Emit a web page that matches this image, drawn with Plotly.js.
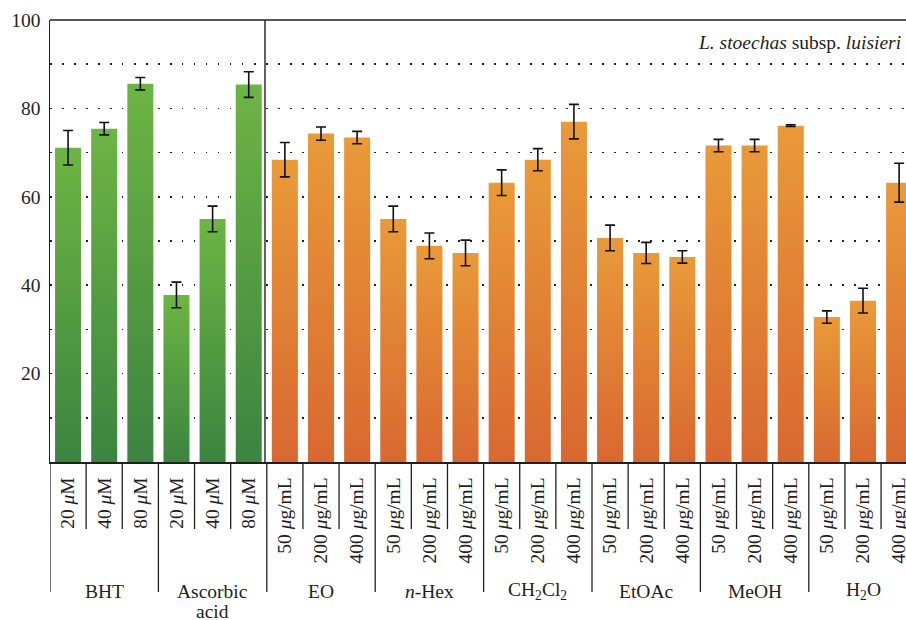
<!DOCTYPE html>
<html>
<head>
<meta charset="utf-8">
<script src="https://cdn.plot.ly/plotly-3.0.1.min.js"></script>
<style>
html,body{margin:0;padding:0;background:#fff;overflow:hidden;}
#chart{width:906px;height:620px;}
</style>
</head>
<body>
<div id="chart"></div>
<script>
// ---- data ----
const concLabels = [
  "20 <i>μ</i>M","40 <i>μ</i>M","80 <i>μ</i>M",
  "20 <i>μ</i>M","40 <i>μ</i>M","80 <i>μ</i>M",
  "50 <i>μ</i>g/mL","200 <i>μ</i>g/mL","400 <i>μ</i>g/mL",
  "50 <i>μ</i>g/mL","200 <i>μ</i>g/mL","400 <i>μ</i>g/mL",
  "50 <i>μ</i>g/mL","200 <i>μ</i>g/mL","400 <i>μ</i>g/mL",
  "50 <i>μ</i>g/mL","200 <i>μ</i>g/mL","400 <i>μ</i>g/mL",
  "50 <i>μ</i>g/mL","200 <i>μ</i>g/mL","400 <i>μ</i>g/mL",
  "50 <i>μ</i>g/mL","200 <i>μ</i>g/mL","400 <i>μ</i>g/mL"
];
const groupLabels = ["BHT","Ascorbic<br>acid","EO","<i>n</i>-Hex","CH<sub>2</sub>Cl<sub>2</sub>","EtOAc","MeOH","H<sub>2</sub>O"];
const groupSizes = [3,3,3,3,3,3,3,3];

const standardValues = [71.1, 75.4, 85.6, 37.8, 55.0, 85.4];
const standardErrors = [3.9, 1.4, 1.4, 2.9, 2.9, 2.9];

const extractValues = [68.4, 74.3, 73.4,  55.0, 48.9, 47.3,  63.2, 68.4, 77.0,
                       50.7, 47.3, 46.4,  71.6, 71.6, 76.1,  32.8, 36.5, 63.2];
const extractErrors = [3.9, 1.5, 1.4,  2.9, 2.9, 2.9,  2.9, 2.5, 3.9,
                       2.9, 2.4, 1.4,  1.4, 1.4, 0.2,  1.4, 2.8, 4.4];

const yTickVals = [20, 40, 60, 80, 100];
const plantLabel = "<i>L. stoechas</i> subsp. <i>luisieri</i>";

// ---- styling ----
const FONT = "Liberation Serif, Times New Roman, serif";
const TXT = "#231f20";
const FS = 19.5;

const xStd = standardValues.map((_, i) => i);
const xExt = extractValues.map((_, i) => i + standardValues.length);
const allX = concLabels.map((_, i) => i);

const errStyle = {type: 'data', visible: true, color: '#111', thickness: 1.6, width: 5};

const data = [
  {type: 'bar', x: xStd, y: standardValues, width: 0.72,
   marker: {color: '#55a043', line: {width: 0}},
   error_y: Object.assign({array: standardErrors}, errStyle), hoverinfo: 'skip'},
  {type: 'bar', x: xExt, y: extractValues, width: 0.72,
   marker: {color: '#e08035', line: {width: 0}},
   error_y: Object.assign({array: extractErrors}, errStyle), hoverinfo: 'skip'}
];

// plot area: top 20px, bottom 462px => height 442px
const plotH = 442;
const pxToPaper = (px) => -(px) / plotH; // px below axis -> paper y

const shapes = [];
// top border
shapes.push({type: 'line', xref: 'paper', yref: 'paper', x0: 0, x1: 1, y0: 1, y1: 1,
             line: {color: TXT, width: 1.6}});
// divider between standards and extracts inside plot
shapes.push({type: 'line', xref: 'x', yref: 'paper', x0: standardValues.length - 0.55, x1: standardValues.length - 0.55,
             y0: 0, y1: 1, line: {color: TXT, width: 1.4}});
// category dividers below axis
const groupStarts = [];
let acc = 0;
groupSizes.forEach(s => { groupStarts.push(acc); acc += s; });
for (let k = 0; k <= concLabels.length; k++) {
  const isGroup = groupStarts.includes(k) || k === concLabels.length;
  shapes.push({type: 'line', xref: 'x', yref: 'paper', x0: k - 0.5, x1: k - 0.5,
               y0: 0, y1: isGroup ? pxToPaper(130) : pxToPaper(67),
               line: {color: TXT, width: 1.3}});
}

const annotations = [];
groupLabels.forEach((g, gi) => {
  const center = groupStarts[gi] + (groupSizes[gi] - 1) / 2;
  g.split('<br>').forEach((line, li) => {
    annotations.push({xref: 'x', yref: 'paper', x: center, y: pxToPaper(129 + li * 20),
      text: line, showarrow: false, xanchor: 'center', yanchor: 'middle',
      font: {family: FONT, size: FS, color: TXT}});
  });
});
annotations.push({xref: 'paper', yref: 'paper', x: 1, y: (462 - 42) / plotH, xshift: -3,
  text: plantLabel, showarrow: false, xanchor: 'right', yanchor: 'middle',
  font: {family: FONT, size: FS, color: TXT}});

const gridDash = "1.5px,10.5px";
const layout = {
  width: 906, height: 620,
  margin: {l: 50, r: 0, t: 20, b: 158},
  paper_bgcolor: '#fff', plot_bgcolor: '#fff',
  barmode: 'overlay', showlegend: false,
  font: {family: FONT, size: FS, color: TXT},
  xaxis: {range: [-0.5, 23.19], tickvals: allX, ticktext: concLabels, tickangle: -90,
          ticks: '', showgrid: false, zeroline: false, showline: true,
          linecolor: TXT, linewidth: 1.5, ticklabelstandoff: 6, ticklabeloverflow: 'allow',
          tickfont: {family: FONT, size: FS, color: TXT}, fixedrange: true},
  yaxis: {range: [0, 100], tickvals: yTickVals, ticks: '', showline: true,
          linecolor: TXT, linewidth: 1.5, zeroline: false,
          showgrid: true, gridcolor: TXT, gridwidth: 1.5, griddash: gridDash,
          minor: {dtick: 10, tick0: 0, showgrid: true, gridcolor: TXT, gridwidth: 1.5, griddash: gridDash},
          ticklabelstandoff: 4,
          tickfont: {family: FONT, size: FS, color: TXT}, fixedrange: true},
  shapes: shapes,
  annotations: annotations
};

Plotly.newPlot('chart', data, layout, {staticPlot: true, displayModeBar: false}).then(gd => {
  const ns = 'http://www.w3.org/2000/svg';
  const svg = gd.querySelector('svg.main-svg');
  const defs = document.createElementNS(ns, 'defs');
  svg.insertBefore(defs, svg.firstChild);
  function addGrad(id, top, bottom) {
    const lg = document.createElementNS(ns, 'linearGradient');
    lg.setAttribute('id', id);
    lg.setAttribute('x1', '0'); lg.setAttribute('y1', '0');
    lg.setAttribute('x2', '0'); lg.setAttribute('y2', '1');
    [[0, top], [1, bottom]].forEach(([o, c]) => {
      const st = document.createElementNS(ns, 'stop');
      st.setAttribute('offset', o);
      st.setAttribute('stop-color', c);
      lg.appendChild(st);
    });
    defs.appendChild(lg);
  }
  addGrad('gGreen', '#6db543', '#3c8440');
  addGrad('gOrange', '#e99a39', '#d96830');
  const traces = gd.querySelectorAll('.barlayer .trace');
  const ids = ['gGreen', 'gOrange'];
  traces.forEach((t, i) => {
    t.querySelectorAll('.point path').forEach(p => { p.style.fill = 'url(#' + ids[i] + ')'; });
  });
});
</script>
</body>
</html>
